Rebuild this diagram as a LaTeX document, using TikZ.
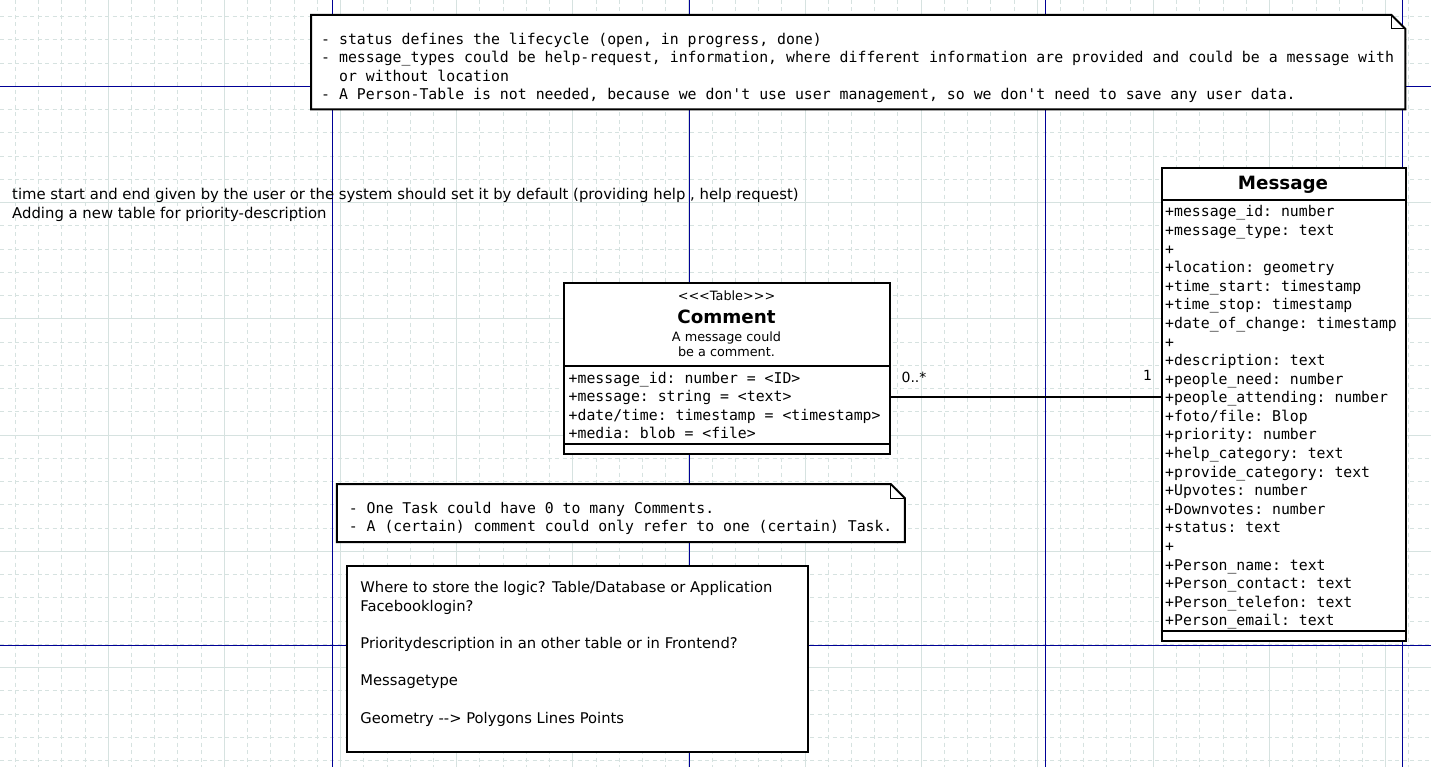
\documentclass[tikz,border=0pt]{standalone}
\usepackage{fontspec}
\setmainfont{DejaVu Sans}[Ligatures=TeXOff]
\setmonofont{DejaVu Sans Mono}
\definecolor{gridc}{RGB}{214,226,224}
\definecolor{pagec}{RGB}{0,0,150}
\tikzset{
  minorgrid/.style={draw=gridc, line width=1pt, dash pattern=on 4pt off 3.5pt},
  majorgrid/.style={draw=gridc, line width=1pt},
  pageline/.style={draw=pagec, line width=1pt},
  umlbox/.style={draw=black, fill=white, line width=2pt, rectangle, inner sep=0pt, anchor=north west},
  noteframe/.style={rectangle, inner sep=0pt, anchor=north west},
  noteline/.style={draw=black, fill=white, line width=2pt, line join=miter},
  foldline/.style={draw=black, line width=1pt},
  sepline/.style={draw=black, line width=2pt},
  conn/.style={draw=black, line width=2pt},
  monotext/.style={font=\fontsize{14.8}{18.59}\selectfont\ttfamily, inner sep=0pt, anchor=west, align=left},
  sanstext/.style={font=\fontsize{14.75}{18.6}\selectfont, inner sep=0pt, anchor=west, align=left},
  titletext/.style={font=\fontsize{18.3}{22}\selectfont\bfseries, inner sep=0pt, anchor=center},
  smalltext/.style={font=\fontsize{12.8}{15}\selectfont, inner sep=0pt, anchor=center, align=center},
  labeltext/.style={font=\fontsize{14}{16}\selectfont, inner sep=0pt, anchor=center},
}
\begin{document}
\begin{tikzpicture}[x=1pt,y=-1pt]
\useasboundingbox (0,0) rectangle (1431,767);
\fill[white] (0,0) rectangle (1431,767);
% grid
\foreach \i in {0,...,61} {
  \pgfmathsetmacro\xx{15.4+23.225*\i}
  \draw[minorgrid] (\xx,0) -- (\xx,767);
}
\foreach \i in {0,...,32} {
  \pgfmathsetmacro\yy{16.53+23.256*(\i)}
  \draw[minorgrid] (0,\yy) -- (1431,\yy);
}
\foreach \i in {0,...,11} {
  \pgfmathsetmacro\xx{108.3+116.125*\i}
  \draw[majorgrid] (\xx,0) -- (\xx,767);
}
\foreach \i in {0,...,5} {
  \pgfmathsetmacro\yy{86.3+116.28*\i}
  \draw[majorgrid] (0,\yy) -- (1431,\yy);
}
% page break lines
\draw[pageline] (332.3,0) -- (332.3,767);
\draw[pageline] (689.3,0) -- (689.3,767);
\draw[pageline] (1045.5,0) -- (1045.5,767);
\draw[pageline] (1402.7,0) -- (1402.7,767);
\draw[pageline] (0,86.3) -- (1431,86.3);
\draw[pageline] (0,645) -- (1431,645);

% top note
\node[noteframe, minimum width=1094pt, minimum height=94pt] (note1) at (311,15) {};
\draw[noteline] (note1.north west) -- ([xshift=-14pt]note1.north east) -- ([yshift=-14pt]note1.north east) -- (note1.south east) -- (note1.south west) -- cycle;
\draw[foldline] ([xshift=-14pt]note1.north east) -- ([xshift=-14pt,yshift=-14pt]note1.north east) -- ([yshift=-14pt]note1.north east);
\node[monotext, font=\fontsize{14.85}{18.4}\selectfont\ttfamily] (note1text) at (321,67.8) {- status defines the lifecycle (open, in progress, done)\\- message\_types could be help-request, information, where different information are provided and could be a message with\\\ \ or without location\\- A Person-Table is not needed, because we don't use user management, so we don't need to save any user data.};

% free text
\node[sanstext, font=\fontsize{14.85}{19.3}\selectfont] (freetext) at (12,205.2) {time start and end given by the user or the system should set it by default (providing help , help request)\\Adding a new table for priority-description};

% Comment class
\node[umlbox, minimum width=326pt, minimum height=171pt] (comment) at (563.3,282.3) {};
\draw[sepline] (comment.west |- 0,365.7) -- (comment.east |- 0,365.7);
\draw[sepline] (comment.west |- 0,444.3) -- (comment.east |- 0,444.3);
\node[smalltext] (commentstereo) at (726.5,296) {<<<Table>>>};
\node[titletext] (commenttitle) at (726.5,317.3) {Comment};
\node[smalltext] (commentdesc) at (726.5,344.2) {A message could\\be a comment.};
\node[monotext] (commentattrs) at (568.5,405.5) {+message\_id: number = <ID>\\+message: string = <text>\\+date/time: timestamp = <timestamp>\\+media: blob = <file>};

% Message class
\node[umlbox, minimum width=244.6pt, minimum height=473.3pt] (message) at (1160.7,166.7) {};
\draw[sepline] (message.west |- 0,200) -- (message.east |- 0,200);
\draw[sepline] (message.west |- 0,630.7) -- (message.east |- 0,630.7);
\node[titletext] (messagetitle) at (1283,185) {Message};
\node[monotext] (messageattrs) at (1165,417.5) {+message\_id: number\\+message\_type: text\\+\\+location: geometry\\+time\_start: timestamp\\+time\_stop: timestamp\\+date\_of\_change: timestamp\\+\\+description: text\\+people\_need: number\\+people\_attending: number\\+foto/file: Blop\\+priority: number\\+help\_category: text\\+provide\_category: text\\+Upvotes: number\\+Downvotes: number\\+status: text\\+\\+Person\_name: text\\+Person\_contact: text\\+Person\_telefon: text\\+Person\_email: text};

% association
\coordinate (assocy) at (0,397);
\draw[conn] (comment.east |- assocy) -- (message.west |- assocy);
\node[labeltext] (multmany) at (914,377.5) {0..*};
\node[labeltext] (multone) at (1147.5,375) {1};

% second note
\node[noteframe, minimum width=567.6pt, minimum height=57.7pt] (note2) at (336.8,484) {};
\draw[noteline] (note2.north west) -- ([xshift=-14pt]note2.north east) -- ([yshift=-14pt]note2.north east) -- (note2.south east) -- (note2.south west) -- cycle;
\draw[foldline] ([xshift=-14pt]note2.north east) -- ([xshift=-14pt,yshift=-14pt]note2.north east) -- ([yshift=-14pt]note2.north east);
\node[monotext, font=\fontsize{14.8}{18.3}\selectfont\ttfamily] (note2text) at (348.7,518.3) {- One Task could have 0 to many Comments.\\- A (certain) comment could only refer to one (certain) Task.};

% question box
\node[umlbox, minimum width=461.2pt, minimum height=186pt] (questions) at (345.6,565) {};
\node[sanstext] (questionstext) at (360.2,653.9) {Where to store the logic? Table/Database or Application\\Facebooklogin?\\\\Prioritydescription in an other table or in Frontend?\\\\Messagetype\\\\Geometry --> Polygons Lines Points};
\end{tikzpicture}
\end{document}
